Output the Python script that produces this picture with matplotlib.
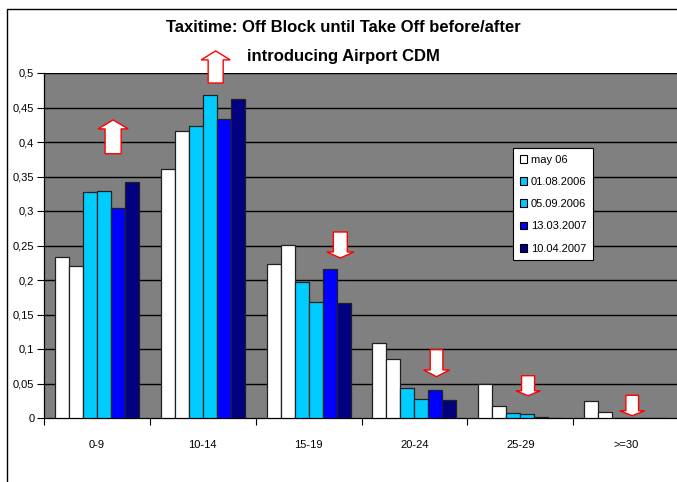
import matplotlib
matplotlib.use("Agg")
import matplotlib.pyplot as plt
from matplotlib.patches import Polygon, Rectangle, Patch
import numpy as np

categories = ["0-9", "10-14", "15-19", "20-24", "25-29", ">=30"]
series_a = [0.234, 0.361, 0.223, 0.109, 0.049, 0.025]   # may 06 (1)
series_b = [0.220, 0.416, 0.251, 0.085, 0.018, 0.009]   # may 06 (2)
series_c = [0.328, 0.423, 0.197, 0.044, 0.007, 0.0]     # 01.08.2006
series_d = [0.329, 0.468, 0.168, 0.028, 0.006, 0.0]     # 05.09.2006
series_e = [0.305, 0.434, 0.216, 0.040, 0.0015, 0.0]    # 13.03.2007
series_f = [0.342, 0.463, 0.167, 0.026, 0.0005, 0.0]    # 10.04.2007
legend_labels = ["may 06", "01.08.2006", "05.09.2006", "13.03.2007", "10.04.2007"]
yticks = [0, 0.05, 0.1, 0.15, 0.2, 0.25, 0.3, 0.35, 0.4, 0.45, 0.5]
ytick_labels = ["0", "0,05", "0,1", "0,15", "0,2", "0,25", "0,3", "0,35", "0,4", "0,45", "0,5"]

all_series = [series_a, series_b, series_c, series_d, series_e, series_f]
colors = ["#FFFFFF", "#FFFFFF", "#00CCFF", "#00CCFF", "#0000FF", "#000080"]
legend_colors = ["#FFFFFF", "#00CCFF", "#00CCFF", "#0000FF", "#000080"]

FONT = ["Liberation Sans Narrow", "Liberation Sans", "DejaVu Sans"]
plt.rcParams["font.family"] = FONT

fig = plt.figure(figsize=(6.77, 4.82), dpi=100)
ax = fig.add_axes([44 / 677, 64 / 482, 635 / 677, 345 / 482])
ax.set_facecolor("#808080")

x = np.arange(len(categories))
w = 0.1325
start = -0.3975
for j, (vals, c) in enumerate(zip(all_series, colors)):
    ax.bar(x + start + w * (j + 0.5), vals, width=w, color=c,
           edgecolor="#202020", linewidth=0.9, zorder=3)

ax.set_xlim(-0.5, len(categories) - 0.5)
ax.set_ylim(0, 0.5)
ax.set_yticks(yticks)
ax.set_yticklabels(ytick_labels, fontsize=8)
for yv in yticks[1:]:
    ax.axhline(yv, color="black", linewidth=1.0, zorder=1)

ax.set_xticks(x)
ax.set_xticklabels(categories, fontsize=8)
ax.set_xticks(np.arange(len(categories) + 1) - 0.5, minor=True)
ax.tick_params(axis="x", which="major", length=0, pad=16)
ax.tick_params(axis="x", which="minor", length=5, direction="out", width=0.8)
ax.tick_params(axis="y", length=5, direction="out", width=0.8, pad=2)

for s in ["top", "right"]:
    ax.spines[s].set_visible(False)
ax.spines["left"].set_color("black")
ax.spines["bottom"].set_color("black")
ax.spines["left"].set_linewidth(0.9)
ax.spines["bottom"].set_linewidth(0.9)

# block arrows: (cx, y_tail, y_tip, head_half_w, shaft_half_w, head_len)
arrows = [
    (0.153, 0.383, 0.432, 0.142, 0.076, 0.013),
    (1.122, 0.4855, 0.532, 0.137, 0.071, 0.013),
    (2.300, 0.2696, 0.2319, 0.128, 0.066, 0.0087),
    (3.209, 0.099, 0.0599, 0.123, 0.060, 0.0097),
    (4.074, 0.0613, 0.0323, 0.116, 0.0615, 0.0072),
    (5.058, 0.0329, 0.0033, 0.118, 0.060, 0.0072),
]
for cx, yt, yp, hw, sw, hl in arrows:
    d = 1 if yp > yt else -1
    yb = yp - d * hl
    pts = [(cx - sw, yt), (cx + sw, yt), (cx + sw, yb), (cx + hw, yb),
           (cx, yp), (cx - hw, yb), (cx - sw, yb)]
    ax.add_patch(Polygon(pts, closed=True, facecolor="white", edgecolor="red",
                         linewidth=1.0, zorder=5, clip_on=False))

handles = [Patch(facecolor=c, edgecolor="black", linewidth=0.8) for c in legend_colors]
leg = ax.legend(handles, legend_labels, loc="upper left",
                bbox_to_anchor=((513 - 44) / 635, (418 - 148) / 345),
                borderaxespad=0, fontsize=8, frameon=True, fancybox=False,
                framealpha=1.0,
                handlelength=0.7, handleheight=0.7, handletextpad=0.3,
                labelspacing=1.1, borderpad=0.6)
leg.get_frame().set_edgecolor("black")
leg.get_frame().set_linewidth(0.8)
leg.get_frame().set_facecolor("white")
leg.set_zorder(6)

fig.text(343 / 677, 1 - 27 / 482, "Taxitime: Off Block until Take Off before/after",
         ha="center", va="center", fontsize=12, fontweight="bold")
fig.text(343 / 677, 1 - 57 / 482, "introducing Airport CDM",
         ha="center", va="center", fontsize=12, fontweight="bold")

fig.patches.append(Rectangle((7 / 677, -0.05), 1.0, 1 - 9 / 482 + 0.05,
                             transform=fig.transFigure, fill=False,
                             edgecolor="black", linewidth=1.0))

fig.savefig("out.png", dpi=100)
